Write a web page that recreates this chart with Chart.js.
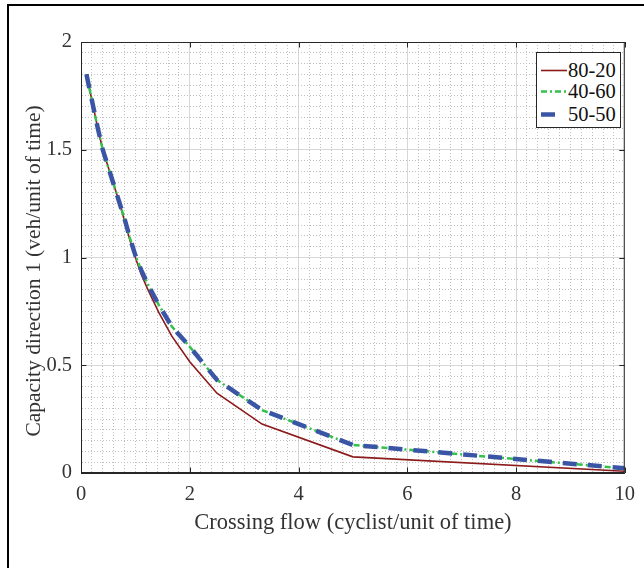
<!DOCTYPE html>
<html><head><meta charset="utf-8">
<script src="https://cdn.jsdelivr.net/npm/chart.js@4.4.1/dist/chart.umd.min.js"></script>
<style>
html,body{margin:0;padding:0;background:#fff;}
#wrap{position:relative;width:644px;height:568px;overflow:hidden;background:#fff;}
#frame{position:absolute;left:7px;top:4px;width:800px;height:800px;border-left:2.5px solid #000;border-top:2.5px solid #000;pointer-events:none;}
#legend{position:absolute;left:536px;top:52px;width:83px;height:74px;border:1px solid #262626;background:#fff;font-family:'Liberation Serif','Times New Roman',serif;font-size:20.5px;color:#111;}
.row{position:absolute;left:0;height:24px;width:83px;}
.row svg{position:absolute;left:3px;top:0;}
.row span{position:absolute;left:31px;top:0;line-height:24px;white-space:nowrap;}
</style></head>
<body><div id="wrap"><canvas id="c"></canvas><div id="frame"></div><div id="legend"></div></div>
<script>
// ---- data ----
const xValues      = [0.1, 0.2, 0.3, 0.4, 0.5, 0.6, 0.7, 0.8, 0.9, 1.0, 1.11, 1.25, 1.43, 1.67, 2.0, 2.5, 3.33, 5, 10];
const capacity8020 = [1.85, 1.73, 1.61, 1.50, 1.42, 1.34, 1.26, 1.17, 1.08, 1.00, 0.92, 0.84, 0.745, 0.635, 0.516, 0.37, 0.227, 0.075, 0.008];
const capacity4060 = [1.85, 1.73, 1.61, 1.50, 1.42, 1.34, 1.26, 1.18, 1.09, 1.01, 0.94, 0.865, 0.78, 0.68, 0.586, 0.432, 0.292, 0.13, 0.021];
const capacity5050 = [1.85, 1.73, 1.61, 1.50, 1.42, 1.34, 1.26, 1.18, 1.09, 1.01, 0.94, 0.865, 0.78, 0.68, 0.586, 0.432, 0.292, 0.13, 0.022];
const seriesNames  = ['80-20', '40-60', '50-50'];
const xTickLabels  = [0, 2, 4, 6, 8, 10];
const yTickLabels  = [0, 0.5, 1, 1.5, 2];

const FONT = "'Liberation Serif', 'Times New Roman', serif";
const TXT = '#333333';
const AX = '#262626';
const styles = [
  {color: '#8c1a1a', width: 1.6, dash: []},
  {color: '#33c04c', width: 2.5, dash: [6, 3, 2, 3]},
  {color: '#3a55a5', width: 4.5, dash: [14, 11]}
];
const seriesValues = [capacity8020, capacity4060, capacity5050];

const isMajor = (v, list) => list.some(t => Math.abs(t - v) < 1e-6);
const gridColor = list => c => (c.tick && !isMajor(c.tick.value, list)) ? '#c0c0c0' : '#d6d6d6';
const gridDash = list => c => (c.tick && !isMajor(c.tick.value, list)) ? [1, 2] : [];

const boxPlugin = {
  id: 'box',
  afterDatasetsDraw(chart) {
    const {ctx, chartArea: a, scales: {x, y}} = chart;
    ctx.save();
    ctx.setLineDash([]);
    ctx.strokeStyle = AX;
    ctx.lineWidth = 1;
    ctx.strokeRect(a.left + 0.5, a.top + 0.5, a.right - a.left - 1, a.bottom - a.top - 1);
    const L = 5.5;
    ctx.beginPath();
    xTickLabels.forEach(v => {
      const px = Math.round(x.getPixelForValue(v)) + 0.5;
      ctx.moveTo(px, a.bottom); ctx.lineTo(px, a.bottom - L);
      ctx.moveTo(px, a.top); ctx.lineTo(px, a.top + L);
    });
    yTickLabels.forEach(v => {
      const py = Math.round(y.getPixelForValue(v)) + 0.5;
      ctx.moveTo(a.left, py); ctx.lineTo(a.left + L, py);
      ctx.moveTo(a.right, py); ctx.lineTo(a.right - L, py);
    });
    ctx.stroke();
    ctx.restore();
  }
};

new Chart(document.getElementById('c'), {
  type: 'line',
  data: {
    datasets: seriesNames.map((name, k) => ({
      label: name,
      data: xValues.map((xv, i) => ({x: xv, y: seriesValues[k][i]})),
      borderColor: styles[k].color,
      borderWidth: styles[k].width,
      borderDash: styles[k].dash,
      order: 3 - k,
      pointRadius: 0,
      tension: 0,
      fill: false
    }))
  },
  options: {
    responsive: true,
    maintainAspectRatio: false,
    animation: false,
    devicePixelRatio: 1,
    layout: {padding: {left: 0, top: 42, right: 13, bottom: 0}},
    plugins: {legend: {display: false}, tooltip: {enabled: false}},
    scales: {
      x: {
        type: 'linear', min: 0, max: 10,
        ticks: {stepSize: 0.2, autoSkip: false, maxRotation: 0, padding: 9, color: TXT,
                font: {family: FONT, size: 20.5},
                callback: v => isMajor(v, xTickLabels) ? String(Math.round(v)) : ''},
        grid: {drawTicks: false, color: gridColor(xTickLabels), lineWidth: 1},
        border: {display: true, color: AX, width: 1, dash: gridDash(xTickLabels)},
        title: {display: true, text: 'Crossing flow (cyclist/unit of time)', color: TXT,
                font: {family: FONT, size: 22.5}, padding: {top: 0, bottom: 31}},
        afterFit: s => { s.height = 95; }
      },
      y: {
        type: 'linear', min: 0, max: 2,
        ticks: {stepSize: 0.05, autoSkip: false, padding: 9, color: TXT,
                font: {family: FONT, size: 20.5},
                callback: v => isMajor(v, yTickLabels) ? String(Math.round(v * 2) / 2) : ''},
        grid: {drawTicks: false, color: gridColor(yTickLabels), lineWidth: 1},
        border: {display: true, color: AX, width: 1, dash: gridDash(yTickLabels)},
        title: {display: true, text: 'Capacity direction 1 (veh/unit of time)\u00a0\u00a0\u00a0\u00a0\u00a0', color: TXT,
                font: {family: FONT, size: 21.5}, padding: {top: 21, bottom: 0}},
        afterFit: s => { s.width = 81; }
      }
    }
  },
  plugins: [boxPlugin]
});

// legend built from the same series names/styles
const legend = document.getElementById('legend');
const rowTops = [5, 26, 49];
const sampleEnds = [27, 27, 25];
seriesNames.forEach((name, k) => {
  const st = styles[k];
  const row = document.createElement('div');
  row.className = 'row';
  row.style.top = rowTops[k] + 'px';
  row.innerHTML = '<svg width="28" height="24"><line x1="1" y1="12.5" x2="' + sampleEnds[k] + '" y2="12.5" stroke="' + st.color +
    '" stroke-width="' + st.width + '" stroke-dasharray="' + (st.dash.length ? st.dash.join(',') : 'none') + '"/></svg>' +
    '<span>' + name + '</span>';
  legend.appendChild(row);
});
</script>
</body></html>
